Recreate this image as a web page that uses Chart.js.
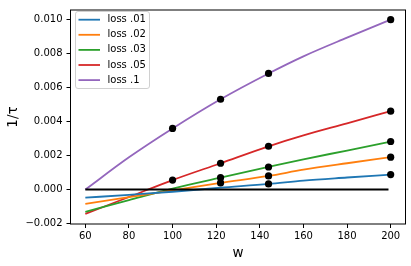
<!DOCTYPE html>
<html>
<head>
<meta charset="utf-8">
<script src="https://cdn.jsdelivr.net/npm/chart.js@4.4.1/dist/chart.umd.min.js"></script>
<style>
  html, body { margin: 0; padding: 0; background: #fff; }
  canvas { display: block; }
</style>
</head>
<body>
<canvas id="chart" width="411" height="266"></canvas>
<script>
// --- DATOS ---
const wFit = [60, 80, 100, 122, 144, 160, 180, 200];
const fit01 = [-0.00048, -0.00031, -0.00013, 0.00011, 0.00033, 0.00053, 0.00071, 0.00088];
const fit02 = [-0.00085, -0.00045, -0.00005, 0.00039, 0.00080, 0.00117, 0.00155, 0.00191];
const fit03 = [-0.00131, -0.00062, 0.00006, 0.00070, 0.00133, 0.00178, 0.00230, 0.00283];
const fit05 = [-0.00143, -0.00044, 0.00056, 0.00155, 0.00255, 0.00319, 0.00390, 0.00462];
const fit1  = [0.00000, 0.00190, 0.00360, 0.00532, 0.00684, 0.00785, 0.00895, 0.01001];

const wDots01 = [144, 200];
const dots01 = [0.00033, 0.00088];
const wDots02 = [122, 144, 200];
const dots02 = [0.00039, 0.00080, 0.00191];
const wDots03 = [122, 144, 200];
const dots03 = [0.00070, 0.00133, 0.00283];
const wDots05 = [100, 122, 144, 200];
const dots05 = [0.00056, 0.00155, 0.00255, 0.00462];
const wDots1 = [100, 122, 144, 200];
const dots1 = [0.00360, 0.00532, 0.00684, 0.01001];

const wZero = [60, 199];
const zeroLine = [0, 0];

const labels = ["loss .01", "loss .02", "loss .03", "loss .05", "loss .1"];
const colors = ["#1f77b4", "#ff7f0e", "#2ca02c", "#d62728", "#9467bd"];
const xTicks = [60, 80, 100, 120, 140, 160, 180, 200];
const yTicks = [-0.002, 0, 0.002, 0.004, 0.006, 0.008, 0.010];

const pts = (xs, ys) => xs.map((x, i) => ({ x: x, y: ys[i] }));

const fits = [fit01, fit02, fit03, fit05, fit1];
const dotX = [wDots01, wDots02, wDots03, wDots05, wDots1];
const dotY = [dots01, dots02, dots03, dots05, dots1];

const datasets = [];
fits.forEach((f, i) => {
    datasets.push({
        label: labels[i], data: pts(wFit, f), borderColor: colors[i],
        borderWidth: 1.8, pointRadius: 0, cubicInterpolationMode: "monotone",
        fill: false, order: 3
    });
});
datasets.push({
    label: "zero", data: pts(wZero, zeroLine), borderColor: "#000",
    borderWidth: 2, pointRadius: 0, fill: false, order: 2
});
dotX.forEach((xs, i) => {
    datasets.push({
        label: "dots" + i, data: pts(xs, dotY[i]), showLine: false,
        pointRadius: 3.6, pointBackgroundColor: "#000", pointBorderWidth: 0,
        borderColor: "#000", order: 1
    });
});

// --- PLUGINS: marco y leyenda ---
const frame = {
    id: "frame",
    afterDraw(chart) {
        const { ctx, chartArea: a } = chart;
        ctx.save();
        ctx.strokeStyle = "#000";
        ctx.lineWidth = 1;
        ctx.strokeRect(a.left, a.top, a.right - a.left, a.bottom - a.top);
        ctx.restore();
    }
};

const legendBox = {
    id: "legendBox",
    afterDraw(chart) {
        const ctx = chart.ctx;
        ctx.save();
        ctx.fillStyle = "rgba(255,255,255,0.8)";
        ctx.strokeStyle = "#d0d0d0";
        ctx.lineWidth = 1;
        ctx.beginPath();
        ctx.roundRect(75.5, 11.5, 74, 77, 2.5);
        ctx.fill();
        ctx.stroke();
        ctx.font = "10px 'DejaVu Sans'";
        ctx.textBaseline = "middle";
        ctx.fillStyle = "#000";
        labels.forEach((lab, i) => {
            const y = 19.7 + i * 15.1;
            ctx.strokeStyle = colors[i];
            ctx.lineWidth = 1.8;
            ctx.beginPath();
            ctx.moveTo(78.5, y);
            ctx.lineTo(100, y);
            ctx.stroke();
            ctx.fillText(lab, 107.5, y);
        });
        ctx.restore();
    }
};

Chart.defaults.font.family = "'DejaVu Sans'";
Chart.defaults.color = "#000";

new Chart(document.getElementById("chart"), {
    type: "line",
    data: { datasets },
    options: {
        responsive: false,
        animation: false,
        devicePixelRatio: 1,
        layout: { padding: { top: 6.5, right: 5.5, left: 0, bottom: 0 } },
        plugins: { legend: { display: false }, tooltip: { enabled: false } },
        scales: {
            x: {
                type: "linear", min: 53.2, max: 206.8,
                afterBuildTicks: s => { s.ticks = xTicks.map(v => ({ value: v })); },
                afterFit: s => { s.height = 42; },
                ticks: { font: { size: 10 }, color: "#000", padding: 2, maxRotation: 0, callback: v => String(v) },
                grid: { drawOnChartArea: false, tickLength: 4, tickColor: "#000", tickWidth: 1 },
                border: { display: false },
                title: { display: true, text: "w", font: { size: 13.5 }, color: "#000", padding: { top: 0, bottom: 4 } }
            },
            y: {
                type: "linear", min: -0.00203, max: 0.01058,
                afterBuildTicks: s => { s.ticks = yTicks.map(v => ({ value: v })); },
                afterFit: s => { s.width = 70.5; },
                ticks: { font: { size: 10 }, color: "#000", padding: 4, callback: v => v.toFixed(3).replace("-", "\u2212") },
                grid: { drawOnChartArea: false, tickLength: 4, tickColor: "#000", tickWidth: 1 },
                border: { display: false },
                title: { display: true, text: "1/\u03c4", font: { size: 13.5 }, color: "#000", padding: { top: 5, bottom: 0 } }
            }
        }
    },
    plugins: [frame, legendBox]
});
</script>
</body>
</html>
